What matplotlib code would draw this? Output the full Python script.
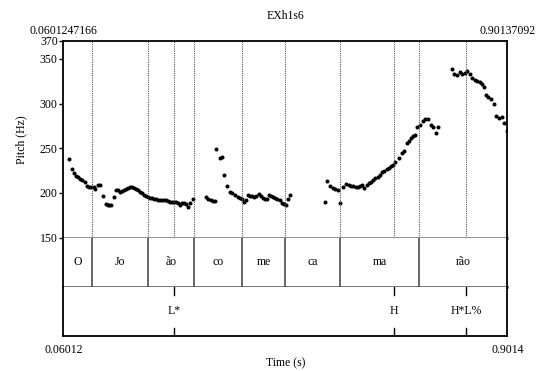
import matplotlib
matplotlib.use("Agg")
from matplotlib import pyplot as plt

plt.rcParams["font.family"] = ["Liberation Serif", "DejaVu Serif"]
plt.rcParams["font.size"] = 8.5

# time range of the sound file
t_start = 0.06012
t_end = 0.9014

# pitch track (time in s, pitch in Hz)
pitch_t = [
    0.0709, 0.0760, 0.0798, 0.0838, 0.0880, 0.0921, 0.0961, 0.1007, 0.1046, 0.1088,
    0.1132, 0.1177, 0.1208, 0.1253, 0.1297, 0.1348, 0.1405, 0.1442, 0.1473, 0.1505,
    0.1556, 0.1594, 0.1632, 0.1676, 0.1713, 0.1751, 0.1789, 0.1827, 0.1865, 0.1903,
    0.1941, 0.1979, 0.2017, 0.2054, 0.2092, 0.2130, 0.2168, 0.2206, 0.2244, 0.2282,
    0.2320, 0.2352, 0.2390, 0.2428, 0.2466, 0.2503, 0.2541, 0.2579, 0.2617, 0.2655,
    0.2693, 0.2731, 0.2769, 0.2807, 0.2845, 0.2882, 0.2920, 0.2958, 0.2996, 0.3053,
    0.3299, 0.3349, 0.3394, 0.3432, 0.3470, 0.3500, 0.3565, 0.3614, 0.3652, 0.3703,
    0.3754, 0.3803, 0.3854, 0.3906, 0.3955, 0.3993, 0.4019, 0.4057, 0.4106, 0.4144,
    0.4182, 0.4214, 0.4252, 0.4303, 0.4341, 0.4379, 0.4417, 0.4455, 0.4504, 0.4542,
    0.4580, 0.4618, 0.4655, 0.4707, 0.4745, 0.4783, 0.4815, 0.4853, 0.4902,
    0.5560, 0.5603, 0.5654, 0.5706, 0.5755, 0.5806, 0.5853, 0.5906, 0.5958, 0.6005,
    0.6052, 0.6096, 0.6141, 0.6185, 0.6223, 0.6261, 0.6304, 0.6350, 0.6388, 0.6431,
    0.6475, 0.6513, 0.6558, 0.6602, 0.6640, 0.6683, 0.6729, 0.6772, 0.6816, 0.6854,
    0.6892, 0.6962, 0.7013, 0.7051, 0.7108, 0.7146, 0.7183, 0.7233, 0.7271, 0.7312,
    0.7360, 0.7407, 0.7451, 0.7507, 0.7559, 0.7610, 0.7659, 0.7710,
    0.7960, 0.8010, 0.8061, 0.8112, 0.8161, 0.8212, 0.8256, 0.8307, 0.8351, 0.8402,
    0.8445, 0.8491, 0.8529, 0.8567, 0.8610, 0.8654, 0.8705, 0.8756, 0.8805, 0.8856,
    0.8908, 0.8957, 0.9008,
]
pitch_hz = [
    238.2, 226.7, 222.5, 219.4, 217.5, 216.0, 214.7, 212.2, 208.0, 206.8,
    206.8, 206.6, 204.9, 208.7, 208.7, 197.1, 187.4, 186.3, 186.3, 186.3,
    195.3, 203.8, 203.1, 201.2, 202.7, 203.5, 204.3, 205.4, 206.5, 206.8,
    206.1, 204.9, 203.5, 201.6, 199.8, 197.9, 196.8, 195.6, 194.8, 194.2,
    193.7, 193.4, 192.6, 192.3, 192.3, 191.9, 192.3, 190.8, 189.7, 190.0,
    190.0, 190.0, 188.6, 186.3, 188.6, 188.6, 187.4, 184.8, 188.6, 193.1,
    196.0, 193.4, 191.9, 191.5, 191.1, 249.4, 239.4, 240.8, 220.3, 208.3,
    201.6, 199.8, 197.5, 196.0, 194.8, 193.4, 190.0, 191.9, 198.2, 197.1,
    196.8, 196.0, 196.4, 199.3, 196.8, 194.2, 193.1, 193.7, 198.2, 196.8,
    195.3, 194.2, 193.7, 191.9, 188.6, 187.8, 187.0, 193.7, 198.2,
    190.4, 213.9, 208.3, 205.4, 204.3, 203.8, 188.3, 206.8, 209.6, 209.1,
    208.0, 207.6, 207.2, 207.2, 208.0, 208.7, 205.4, 209.1, 211.0, 212.4,
    214.7, 216.6, 217.7, 220.3, 223.3, 225.1, 226.7, 228.1, 230.4, 231.8,
    234.9, 238.6, 244.6, 246.9, 256.2, 258.7, 261.0, 264.0, 264.8, 273.5,
    276.0, 280.8, 282.7, 282.9, 275.6, 273.9, 266.8, 273.5,
    338.8, 332.7, 331.6, 335.0, 332.7, 334.6, 336.1, 333.5, 328.7, 326.8,
    325.3, 323.8, 322.3, 318.6, 309.6, 307.7, 305.5, 299.6, 285.7, 283.9,
    284.5, 278.3, 268.8,
]

# syllable tier
syl_bounds = [0.06012, 0.1145, 0.2206, 0.3083, 0.3993, 0.4796, 0.5850, 0.7346, 0.9014]
syl_labels = ["O", "Jo", "ão", "co", "me", "ca", "ma", "rão"]

# tone tier
tone_times = [0.2704, 0.6861, 0.8231]
tone_labels = ["L*", "H", "H*L%"]

y_ticks = [150, 200, 250, 300, 350, 370]


def main():
    fig = plt.figure(figsize=(5.36, 3.71), dpi=100)
    left, width = 0.1181, 0.8284
    ax = fig.add_axes([left, 0.3593, width, 0.5302])
    ax_syl = fig.add_axes([left, 0.2272, width, 0.1321])
    ax_tone = fig.add_axes([left, 0.0943, width, 0.1329])

    # pitch panel
    ax.plot(pitch_t, pitch_hz, "o", color="black", markersize=2.9, markeredgewidth=0)
    ax.set_xlim(t_start, t_end)
    ax.set_ylim(150, 370)
    ax.set_yticks(y_ticks)
    ax.set_xticks([])
    ax.tick_params(axis="y", direction="out", length=3, width=1, pad=1)
    ax.set_ylabel("Pitch (Hz)", labelpad=9)
    for b in syl_bounds[1:-1] + tone_times:
        ax.axvline(b, color="0.35", linestyle=(0, (1, 1)), linewidth=0.8)
    for side in ["left", "top", "right"]:
        ax.spines[side].set_linewidth(1.3)
    ax.spines["bottom"].set_color("0.45")
    ax.spines["bottom"].set_linewidth(1.8)
    ax.text(t_start, 375, "0.0601247166", ha="center", va="bottom")
    ax.text(t_end, 375, "0.90137092", ha="center", va="bottom")
    ax.set_title("EXh1s6", pad=16, fontsize=8.5)

    # syllable tier
    ax_syl.set_xlim(t_start, t_end)
    ax_syl.set_ylim(0, 1)
    ax_syl.set_xticks([])
    ax_syl.set_yticks([])
    for b in syl_bounds[1:-1]:
        ax_syl.axvline(b, color="0.3", linewidth=1.2)
    for a, b, lab in zip(syl_bounds[:-1], syl_bounds[1:], syl_labels):
        ax_syl.text((a + b) / 2, 0.5, lab, ha="center", va="center")
    ax_syl.spines["top"].set_visible(False)
    ax_syl.spines["left"].set_linewidth(1.3)
    ax_syl.spines["right"].set_linewidth(1.3)
    ax_syl.spines["bottom"].set_color("0.3")
    ax_syl.spines["bottom"].set_linewidth(1.8)

    # tone tier
    ax_tone.set_xlim(t_start, t_end)
    ax_tone.set_ylim(0, 1)
    ax_tone.set_xticks([])
    ax_tone.set_yticks([])
    for t, lab in zip(tone_times, tone_labels):
        ax_tone.plot([t, t], [0.84, 1], color="black", linewidth=1.0)
        ax_tone.plot([t, t], [0, 0.16], color="black", linewidth=1.0)
        ax_tone.text(t, 0.5, lab, ha="center", va="center")
    ax_tone.spines["top"].set_visible(False)
    for side in ["left", "right", "bottom"]:
        ax_tone.spines[side].set_linewidth(1.3)
    ax_tone.text(t_start, -0.17, "0.06012", ha="center", va="top")
    ax_tone.text(t_end, -0.17, "0.9014", ha="center", va="top")
    ax_tone.text((t_start + t_end) / 2, -0.43, "Time (s)", ha="center", va="top")

    fig.savefig("out.png", dpi=100)


if __name__ == "__main__":
    main()
